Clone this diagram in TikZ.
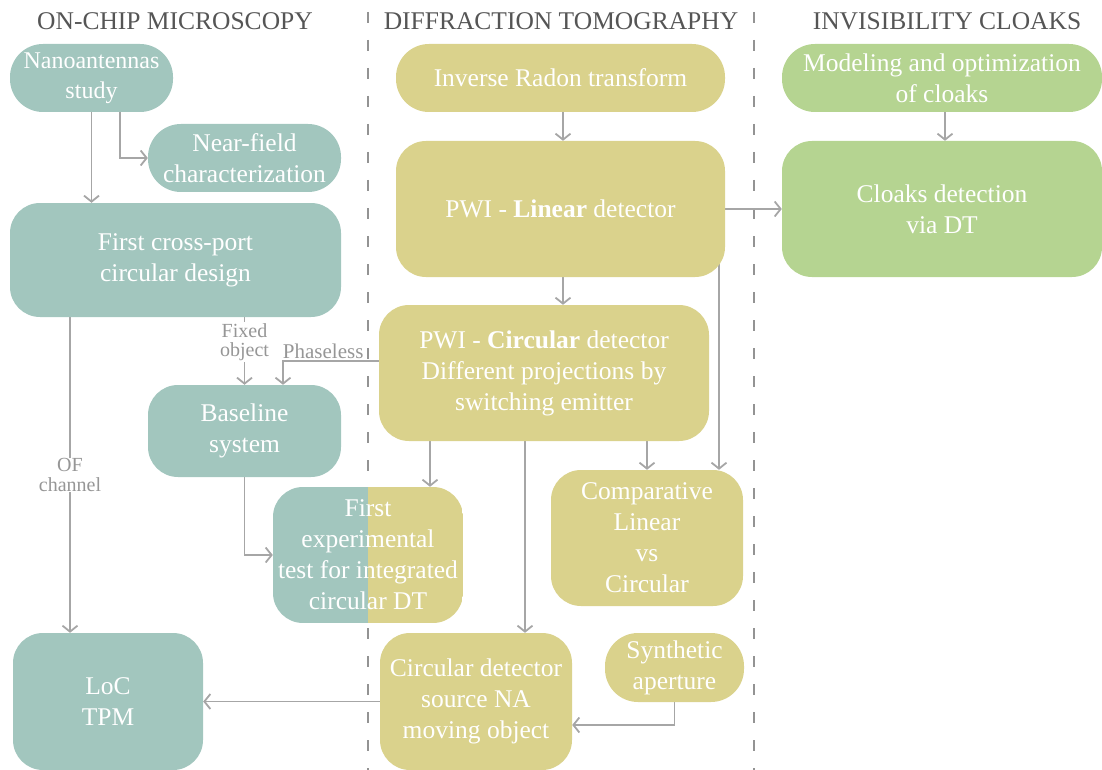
\documentclass[tikz,border=0pt]{standalone}
\usepackage{fontspec}
\setmainfont{Liberation Serif}
\usetikzlibrary{arrows.meta,backgrounds}
\definecolor{ocmteal}{RGB}{162,198,190}
\definecolor{dtyellow}{RGB}{218,210,140}
\definecolor{icgreen}{RGB}{181,212,145}
\definecolor{linegray}{RGB}{166,166,166}
\definecolor{labelgray}{RGB}{150,150,150}
\definecolor{headgray}{RGB}{85,85,85}
\tikzset{
	every box/.style={
		rounded corners=30pt,
		text=white,
		align=center,
		inner sep=0pt,
		font=\fontsize{25.5}{31}\selectfont
	},
	box ocm/.style={fill=ocmteal},
	box dt/.style={fill=dtyellow},
	box ic/.style={fill=icgreen},
	pill/.style={rounded corners=33pt},
	column title/.style={
		anchor=base,
		text=headgray,
		font=\fontsize{25.5}{30}\selectfont
	},
	edge label/.style={
		fill=white,
		text=labelgray,
		align=center,
		inner sep=1pt,
		font=\fontsize{20}{19.5}\selectfont
	},
	link/.style={draw=linegray, line width=1.8pt},
	divider/.style={draw=gray!85, line width=1.8pt, dash pattern=on 11pt off 17pt},
}

\begin{document}
\begin{tikzpicture}[x=1pt, y=-1pt, >={Straight Barb[length=6pt,width=15pt]}]
\useasboundingbox (0,0) rectangle (1102,770);

\foreach \t/\x [count=\i] in {ON-CHIP MICROSCOPY/175, DIFFRACTION TOMOGRAPHY/561, INVISIBILITY CLOAKS/947}
	\node [column title] (title-\i) at (\x,30) {\t};

% on-chip microscopy
\node [every box/.try, box ocm, pill, minimum width=163pt, minimum height=68pt,
	font=\fontsize{24}{30}\selectfont] (nano) at (91.5,78) {Nanoantennas\\study};
\node [every box/.try, box ocm, pill, minimum width=193pt, minimum height=68pt] (near) at (244.5,158) {Near-field\\characterization};
\node [every box/.try, box ocm, minimum width=331pt, minimum height=114pt] (cross) at (175.5,260) {First cross-port\\circular design};
\node [every box/.try, box ocm, minimum width=193pt, minimum height=92pt] (base) at (244.5,431) {Baseline\\system};
\node [every box/.try, minimum width=190pt, minimum height=136pt,
	path picture={
		\fill [ocmteal, sharp corners] (path picture bounding box.south west) rectangle (path picture bounding box.north);
		\fill [dtyellow, sharp corners] (path picture bounding box.south) rectangle (path picture bounding box.north east);
	}] (firstexp) at (368,555) {First\\experimental\\test for integrated\\circular DT};
\node [every box/.try, box ocm, minimum width=190pt, minimum height=137pt] (loc) at (108,701.5) {LoC\\TPM};

% diffraction tomography
\node [every box/.try, box dt, pill, minimum width=329pt, minimum height=68pt] (radon) at (560.5,78) {Inverse Radon transform};
\node [every box/.try, box dt, minimum width=329pt, minimum height=136pt] (linear) at (560.5,209) {PWI - \textbf{Linear} detector};
\node [every box/.try, box dt, minimum width=330pt, minimum height=136pt] (circ) at (544,373) {PWI - \textbf{Circular} detector\\Different projections by\\switching emitter};
\node [every box/.try, box dt, minimum width=192pt, minimum height=136pt] (comp) at (647,538) {Comparative\\Linear\\vs\\Circular};
\node [every box/.try, box dt, minimum width=192pt, minimum height=137pt] (srcna) at (476,701.5) {Circular detector\\source NA\\moving object};
\node [every box/.try, box dt, pill, minimum width=139pt, minimum height=69pt] (synth) at (674.5,667.5) {Synthetic\\aperture};

% invisibility cloaks
\node [every box/.try, box ic, pill, minimum width=320pt, minimum height=68pt] (model) at (942,78) {Modeling and optimization\\of cloaks};
\node [every box/.try, box ic, minimum width=320pt, minimum height=136pt] (cloak) at (942,209) {Cloaks detection\\via DT};

\begin{pgfonlayer}{background}
\foreach \x in {368,754}
	\draw [divider] (\x,12) -- (\x,770);

\draw [link, ->] (nano.south) -- (cross.north -| nano.south);
\draw [link, ->] (nano.south -| 120,0) |- (near.west);
\draw [link, ->] (cross.south -| 70,0) -- node [edge label] {OF\\channel} (loc.north -| 70,0);
\draw [link, ->] (cross.south -| base.north) -- node [edge label, pos=0.37] {Fixed\\object} (base.north);
\draw [link, ->] ([yshift=12pt]circ.west) -| node [edge label, pos=0.29, above, fill=none, font=\fontsize{21}{20}\selectfont] {Phaseless} (base.north -| 283,0);
\draw [link, ->] (base.south) |- (firstexp.west);

\draw [link, ->] (radon.south -| 563,0) -- (linear.north -| 563,0);
\draw [link, ->] (linear.south -| 563,0) -- (circ.north -| 563,0);
\draw [link, ->] (linear.east) -- (cloak.west |- linear.east);
\draw [link, ->] (linear.east -| 719,0) -- (comp.north -| 719,0);
\draw [link, ->] (circ.south -| 430,0) -- (firstexp.north -| 430,0);
\draw [link, ->] (circ.south -| comp.north) -- (comp.north);
\draw [link, ->] (circ.south -| 525,0) -- (srcna.north -| 525,0);
\draw [link, ->] (synth.south) |- ([yshift=-23.5pt]srcna.east);
\draw [link, ->] (srcna.west) -- (loc.east |- srcna.west);

\draw [link, ->] (model.south -| 945,0) -- (cloak.north -| 945,0);
\end{pgfonlayer}

\end{tikzpicture}
\end{document}
